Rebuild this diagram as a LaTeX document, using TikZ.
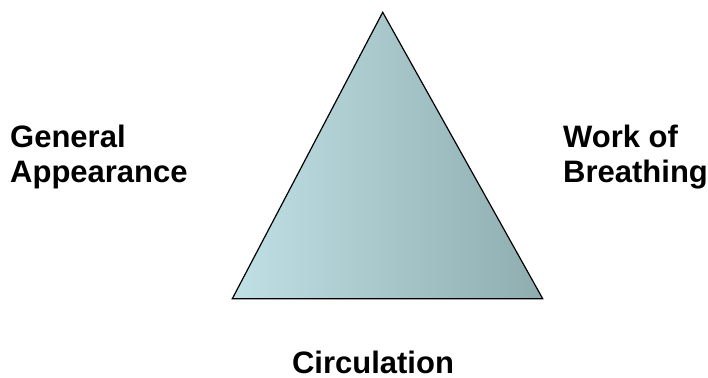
\documentclass[tikz,border=0pt]{standalone}
\usepackage{fontspec}
\setmainfont{Liberation Sans}
\definecolor{tealL}{RGB}{191,224,229}
\definecolor{tealR}{RGB}{143,173,175}
\begin{document}
\begin{tikzpicture}[
  x=1pt,y=-1pt,
  lbl/.style={inner sep=0pt,align=left,
              font=\fontsize{31}{35}\selectfont\bfseries},
  tri/.style={draw=black,line width=1.2pt,line join=miter,
              left color=tealL,right color=tealR}
]
  \useasboundingbox (0,0) rectangle (708,377);

  \coordinate (apex)  at (382.7,12.3);
  \coordinate (left)  at (232.3,298.7);
  \coordinate (right) at (542.7,298.7);
  \path[tri] (apex) -- (right) -- (left) -- cycle;

  \node[lbl,anchor=north west] (gen)  at (10,125.3)
    {General\\Appearance};
  \node[lbl,anchor=north west] (work) at (563,125.3)
    {Work of\\Breathing};
  \node[lbl,anchor=base] (circ) at (373,373) {Circulation};
\end{tikzpicture}
\end{document}
